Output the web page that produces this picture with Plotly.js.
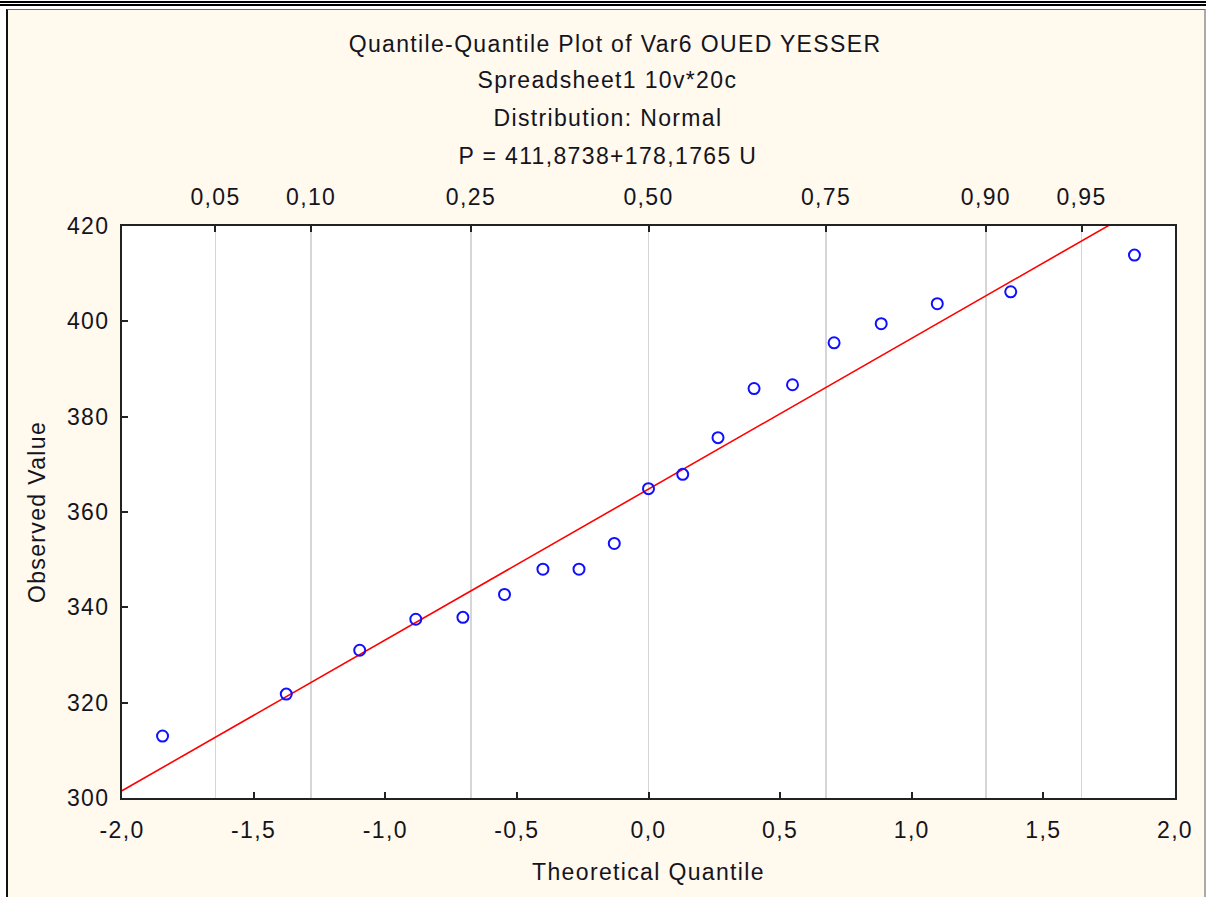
<!DOCTYPE html>
<html>
<head>
<meta charset="utf-8">
<script src="https://cdn.plot.ly/plotly-3.0.1.min.js"></script>
<style>
  html, body { margin: 0; padding: 0; background: #ffffff; width: 1206px; height: 897px; overflow: hidden; }
  #rule1 { position: absolute; left: 0; top: 1px; width: 1206px; height: 2px; background: #000; }
  #rule2 { position: absolute; left: 0; top: 4px; width: 1206px; height: 2px; background: #000; }
  #frame { position: absolute; left: 6px; top: 9px; width: 1196px; height: 900px;
           background: #fff9ee; border-left: 2px solid #111; border-top: 1px solid #666; border-right: 2px solid #aaa; }
  #chart { position: absolute; left: 0; top: 0; width: 1206px; height: 897px; }
  #chart svg text { letter-spacing: 1.35px; }
</style>
</head>
<body>
<div id="rule1"></div>
<div id="rule2"></div>
<div id="frame"></div>
<div id="chart"></div>
<script>
// ---- data ----
const theoreticalQuantile = [-1.846, -1.376, -1.097, -0.884, -0.705, -0.547, -0.401, -0.264, -0.130, 0.000,
                             0.130, 0.264, 0.401, 0.547, 0.705, 0.884, 1.097, 1.376, 1.846];
const observedValue = [313.0, 321.8, 331.0, 337.5, 337.9, 342.7, 348.0, 348.0, 353.4, 364.9,
                       367.9, 375.6, 385.9, 386.7, 395.5, 399.5, 403.7, 406.2, 413.9];
// fitted reference line (as drawn)
const fitIntercept = 364.8;
const fitSlope = 31.64;
const fitX = [-2.0, 2.0];

// top axis: probabilities and their normal quantiles
const probTickVals = [-1.6449, -1.2816, -0.6745, 0.0, 0.6745, 1.2816, 1.6449];
const probTickText = ['0,05', '0,10', '0,25', '0,50', '0,75', '0,90', '0,95'];

// bottom axis ticks
const xTickVals = [-2.0, -1.5, -1.0, -0.5, 0.0, 0.5, 1.0, 1.5, 2.0];
const xTickText = ['-2,0', '-1,5', '-1,0', '-0,5', '0,0', '0,5', '1,0', '1,5', '2,0'];
const yTickVals = [300, 320, 340, 360, 380, 400, 420];

const titleLines = [
  'Quantile-Quantile Plot of Var6 OUED YESSER',
  'Spreadsheet1 10v*20c',
  'Distribution: Normal',
  'P = 411,8738+178,1765 U'
];
const titleShiftsY = [182, 146, 108, 70];
const titleShiftsX = [-34, -41, -41, -41];

const FONT = 'Liberation Sans, Arial, sans-serif';
const TXT = '#141420';

const fitY = fitX.map(x => fitIntercept + fitSlope * x);

const traces = [
  { // invisible trace to carry the top probability axis
    x: [-2, 2], y: [360, 360], xaxis: 'x2', yaxis: 'y', mode: 'markers',
    marker: { opacity: 0 }, hoverinfo: 'skip', showlegend: false
  },
  {
    x: fitX, y: fitY, mode: 'lines', line: { color: '#ff0000', width: 1.6 },
    hoverinfo: 'skip', showlegend: false
  },
  {
    x: theoreticalQuantile, y: observedValue, mode: 'markers',
    marker: { symbol: 'circle-open', size: 11, color: '#1010ff', line: { width: 2, color: '#1010ff' } },
    showlegend: false, cliponaxis: false
  }
];

const annotations = titleLines.map((t, i) => ({
  text: t, xref: 'paper', yref: 'paper', x: 0.5, y: 1, xanchor: 'center', yanchor: 'middle',
  xshift: titleShiftsX[i], yshift: titleShiftsY[i], showarrow: false,
  font: { family: FONT, size: 23, color: TXT }
}));

const layout = {
  width: 1206, height: 897,
  margin: { l: 122, r: 31, t: 226, b: 99, pad: 0 },
  paper_bgcolor: 'rgba(0,0,0,0)',
  plot_bgcolor: '#ffffff',
  separators: ', ',
  font: { family: FONT, size: 23, color: TXT },
  showlegend: false,
  annotations: annotations,
  xaxis: {
    range: [-2, 2], tickmode: 'array', tickvals: xTickVals, ticktext: xTickText,
    ticks: 'inside', ticklen: 6, tickwidth: 2, tickcolor: '#222',
    showline: true, linecolor: '#222', linewidth: 2, mirror: false,
    showgrid: false, zeroline: false, ticklabelstandoff: 10,
    tickfont: { family: FONT, size: 23, color: TXT },
    title: { text: 'Theoretical Quantile', standoff: 22, font: { family: FONT, size: 23, color: TXT } },
    automargin: false
  },
  xaxis2: {
    overlaying: 'x', side: 'top', range: [-2, 2], tickmode: 'array',
    tickvals: probTickVals, ticktext: probTickText,
    ticks: 'inside', ticklen: 6, tickwidth: 2, tickcolor: '#222',
    showline: true, linecolor: '#222', linewidth: 2,
    showgrid: true, gridcolor: '#d6d6d6', gridwidth: 1.5, zeroline: false,
    ticklabelstandoff: 10,
    tickfont: { family: FONT, size: 23, color: TXT }, automargin: false
  },
  yaxis: {
    range: [300, 420], tickmode: 'array', tickvals: yTickVals,
    ticks: 'inside', ticklen: 6, tickwidth: 2, tickcolor: '#222',
    showline: true, linecolor: '#222', linewidth: 2, mirror: true,
    showgrid: false, zeroline: false, ticklabelstandoff: 6,
    tickfont: { family: FONT, size: 23, color: TXT },
    title: { text: 'Observed Value', standoff: 19, font: { family: FONT, size: 23, color: TXT } },
    automargin: false
  }
};

Plotly.newPlot('chart', traces, layout, { staticPlot: true, displayModeBar: false });
</script>
</body>
</html>
